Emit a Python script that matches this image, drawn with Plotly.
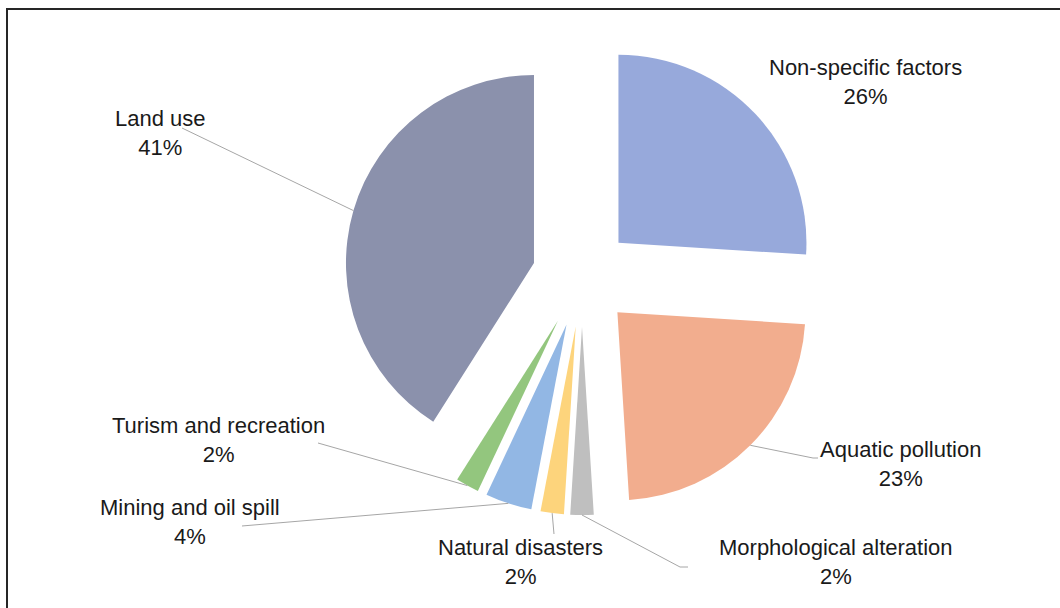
import math
import plotly.graph_objects as go

# ---- data ----
categories = ["Non-specific factors", "Aquatic pollution", "Morphological alteration",
              "Natural disasters", "Mining and oil spill", "Turism and recreation", "Land use"]
values = [26, 23, 2, 2, 4, 2, 41]
colors = ["#97A9DB", "#F2AD8E", "#BFBFBF", "#FDD47C", "#92B7E4", "#93C67E", "#8B91AC"]

# ---- layout constants (pixels) ----
W, H = 1060, 608
CX, CY, R = 582, 277, 188          # pie centre and radius
PULL = 0.266                       # explode fraction of radius
FONT = dict(family="Liberation Sans, Arial, sans-serif", size=22, color="#1a1a1a")
LINE_COLOR = "#A6A6A6"

# label text block centres and leader-line label-side points (pixels)
label_pos = {
    "Non-specific factors": ((865, 82), None),
    "Aquatic pollution": ((900, 464), [(813, 458), (818, 458)]),
    "Morphological alteration": ((836, 562), [(680, 567), (688, 567)]),
    "Natural disasters": ((520, 562), [(554, 534)]),
    "Mining and oil spill": ((190, 522), [(242, 526)]),
    "Turism and recreation": ((218, 440), [(318, 443)]),
    "Land use": ((160, 133), [(182, 128)]),
}

def px(x):
    return x / W

def py(y):
    return 1 - y / H

half = R * (1 + PULL)
dom_x = [px(CX - half - 60), px(CX + half + 60)]
dom_y = [py(CY + half), py(CY - half)]

fig = go.Figure(go.Pie(
    labels=categories, values=values, sort=False, direction="clockwise", rotation=0,
    pull=[PULL] * len(values), marker=dict(colors=colors, line=dict(width=0)),
    textinfo="none", hoverinfo="label+percent", showlegend=False,
    domain=dict(x=dom_x, y=dom_y),
))

total = sum(values)
shapes = [dict(type="rect", xref="paper", yref="paper",
               x0=px(7), y0=py(9), x1=px(W + 20), y1=py(H + 20),
               line=dict(color="#262626", width=2), fillcolor="rgba(0,0,0,0)")]
annotations = []
cum = 0
for cat, v in zip(categories, values):
    mid = (cum + v / 2) / total * 2 * math.pi
    cum += v
    sx, sy = math.sin(mid), -math.cos(mid)
    tipx = CX + sx * R * (1 + PULL)
    tipy = CY + sy * R * (1 + PULL)
    (tx, ty), pts = label_pos[cat]
    pct = round(v / total * 100)
    annotations.append(dict(x=px(tx), y=py(ty), xref="paper", yref="paper",
                            text=f"{cat}<br>{pct}%", showarrow=False, font=FONT,
                            align="center", xanchor="center", yanchor="middle"))
    if pts:
        path = [(tipx, tipy)] + pts
        d = "M " + " L ".join(f"{px(a):.5f},{py(b):.5f}" for a, b in path)
        shapes.append(dict(type="path", xref="paper", yref="paper", path=d,
                           line=dict(color=LINE_COLOR, width=1)))

fig.update_layout(
    width=W, height=H, margin=dict(l=0, r=0, t=0, b=0),
    paper_bgcolor="white", plot_bgcolor="white",
    shapes=shapes, annotations=annotations,
)

fig.write_html("out.html", config={"displayModeBar": False},
               post_script="document.body.style.margin='0';")
